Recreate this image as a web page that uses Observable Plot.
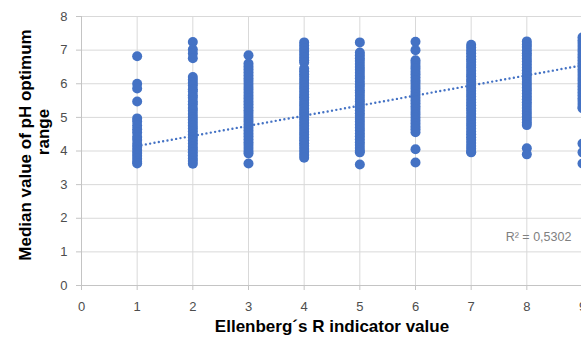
<!DOCTYPE html>
<html><head><meta charset="utf-8">
<script src="https://cdn.jsdelivr.net/npm/d3@7"></script>
<script src="https://cdn.jsdelivr.net/npm/@observablehq/plot@0.6"></script>
<style>
html,body{margin:0;padding:0;overflow:hidden;background:#fff;width:581px;height:337px}
#chart{width:610px}
</style></head><body><div id="chart"></div>
<script>
// Tick labels
const xTicks = [0,1,2,3,4,5,6,7,8,9];
const yTicks = [0,1,2,3,4,5,6,7,8];
const xTitle = "Ellenberg´s R indicator value";
const yTitleLine1 = "Median value of pH optimum";
const yTitleLine2 = "range";

// Median pH optimum values per Ellenberg R class
const r1 = [6.82,6.0,5.86,5.47,4.97,4.88,4.76,4.65,4.55,4.42,4.33,4.21,4.12,4.03,3.94,3.86,3.77,3.68,3.63];
const r2 = [7.24,7.02,6.9,6.76,6.2,6.12,6.03,5.95,5.84,5.77,5.66,5.58,5.47,5.39,5.28,5.2,5.1,5.01,4.93,4.84,4.75,4.67,4.58,4.48,4.4,4.31,4.22,4.13,4.05,3.96,3.87,3.78,3.7,3.62];
const r3 = [6.85,6.6,6.51,6.43,6.34,6.25,6.16,6.08,5.99,5.9,5.82,5.73,5.64,5.56,5.47,5.39,5.3,5.21,5.13,5.04,4.95,4.87,4.78,4.7,4.61,4.52,4.44,4.35,4.26,4.18,4.09,4.0,3.93,3.63];
const r4 = [7.23,7.14,7.05,6.96,6.87,6.78,6.7,6.63,6.45,6.37,6.28,6.2,6.11,6.03,5.94,5.86,5.77,5.68,5.6,5.52,5.43,5.35,5.26,5.17,5.09,5.0,4.92,4.83,4.75,4.66,4.57,4.49,4.4,4.32,4.23,4.15,4.06,3.97,3.88,3.8];
const r5 = [7.23,6.93,6.85,6.76,6.68,6.59,6.5,6.42,6.33,6.24,6.16,6.07,5.98,5.9,5.81,5.73,5.64,5.55,5.47,5.38,5.3,5.21,5.12,5.04,4.95,4.87,4.78,4.69,4.61,4.52,4.44,4.35,4.26,4.18,4.09,4.01,3.96,3.6];
const r6 = [7.25,7.0,6.7,6.62,6.53,6.45,6.36,6.28,6.19,6.1,6.02,5.93,5.85,5.76,5.68,5.59,5.5,5.42,5.33,5.25,5.16,5.08,4.99,4.9,4.82,4.73,4.65,4.56,4.05,3.66];
const r7 = [7.16,7.08,6.99,6.91,6.82,6.73,6.65,6.56,6.48,6.39,6.3,6.22,6.13,6.05,5.96,5.87,5.79,5.7,5.62,5.53,5.44,5.36,5.27,5.19,5.1,5.01,4.93,4.84,4.76,4.67,4.58,4.5,4.41,4.33,4.24,4.15,4.07,3.98,3.96];
const r8 = [7.26,7.17,7.09,7.0,6.91,6.83,6.74,6.66,6.57,6.48,6.4,6.31,6.23,6.14,6.05,5.97,5.88,5.8,5.71,5.62,5.54,5.45,5.37,5.28,5.19,5.11,5.02,4.94,4.85,4.77,4.08,3.9];
const r9 = [7.38,7.29,7.21,7.12,7.03,6.95,6.86,6.78,6.69,6.6,6.52,6.43,6.35,6.26,6.17,6.09,6.0,5.92,5.83,5.74,5.66,5.57,5.49,5.4,5.31,5.27,4.22,3.96,3.63];
const columns = [r1,r2,r3,r4,r5,r6,r7,r8,r9];

// Linear trendline endpoints and R² annotation
const trendX = [1, 9];
const trendY = [4.15, 6.55];
const r2Label = "R² = 0,5302";
const r2LabelX = [8.8];
const r2LabelY = [1.45];

const points = columns.flatMap((vals, i) => vals.map(v => ({x: i + 1, y: v})));
const trend = trendX.map((x, i) => ({x, y: trendY[i]}));

const plot = Plot.plot({
  width: 610, height: 337,
  marginLeft: 81, marginRight: 28, marginTop: 16, marginBottom: 52,
  style: {fontFamily: "'Liberation Sans', Arial, sans-serif", fontSize: "13px", color: "#595959", background: "#fff", overflow: "visible"},
  x: {domain: [0, 9]},
  y: {domain: [0, 8]},
  marks: [
    Plot.gridX(xTicks.slice(1), {stroke: "#d9d9d9", strokeOpacity: 1}),
    Plot.gridY(yTicks.slice(1), {stroke: "#d9d9d9", strokeOpacity: 1}),
    Plot.ruleX([0], {stroke: "#c4c4c4"}),
    Plot.ruleY([0], {stroke: "#c4c4c4"}),
    Plot.axisX(xTicks, {tickSize: 5, tickPadding: 11, stroke: "#c4c4c4", fill: "#4d4d4d", label: null}),
    Plot.axisY(yTicks, {tickSize: 5, tickPadding: 9, stroke: "#c4c4c4", fill: "#4d4d4d", label: null}),
    Plot.dot(points, {x: "x", y: "y", r: 5, fill: "#4472C4", stroke: "none"}),
    Plot.line(trend, {x: "x", y: "y", stroke: "#4472C4", strokeWidth: 2.4, strokeDasharray: "0 4.4", strokeLinecap: "round"}),
    Plot.text(r2LabelX, {x: d => d, y: (d, i) => r2LabelY[i], text: () => r2Label, textAnchor: "end", fill: "#7f7f7f", fontSize: 12.5}),
    Plot.text([xTitle], {frameAnchor: "bottom", text: d => d, textAnchor: "middle", dy: 46.5, fill: "#000", fontSize: 17, fontWeight: "bold"}),
    Plot.text([yTitleLine1], {frameAnchor: "left", text: d => d, textAnchor: "middle", rotate: -90, dx: -56, dy: -6, fill: "#000", fontSize: 17, fontWeight: "bold"}),
    Plot.text([yTitleLine2], {frameAnchor: "left", text: d => d, textAnchor: "middle", rotate: -90, dx: -38, dy: -19, fill: "#000", fontSize: 17, fontWeight: "bold"})
  ]
});
document.getElementById("chart").appendChild(plot);
</script>
</body></html>
